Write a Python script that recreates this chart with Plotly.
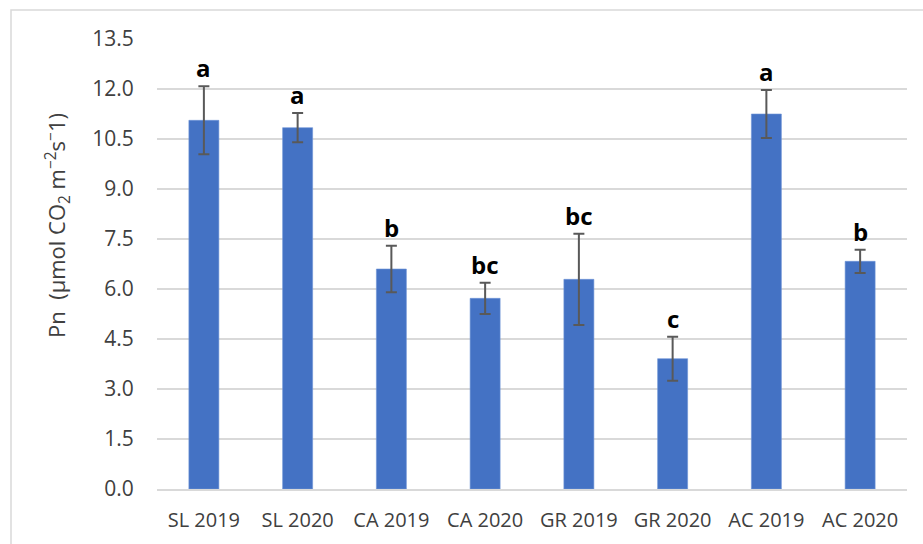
import plotly.graph_objects as go

# Net photosynthesis by treatment and year
categories = ["SL 2019", "SL 2020", "CA 2019", "CA 2020", "GR 2019", "GR 2020", "AC 2019", "AC 2020"]
pn_mean = [11.06, 10.84, 6.60, 5.72, 6.29, 3.91, 11.25, 6.83]
pn_err = [1.02, 0.44, 0.70, 0.47, 1.37, 0.66, 0.72, 0.35]
letters = ["a", "a", "b", "bc", "bc", "c", "a", "b"]
y_ticks = [0.0, 1.5, 3.0, 4.5, 6.0, 7.5, 9.0, 10.5, 12.0, 13.5]

W, H = 923, 544
ML, MR, MT, MB = 157, 16, 39, 55
pw, ph = W - ML - MR, H - MT - MB

fig = go.Figure(
    go.Bar(
        x=categories,
        y=pn_mean,
        marker=dict(color="#4472C4", line=dict(color="#6f93d6", width=0.6)),
        error_y=dict(type="data", array=pn_err, visible=True,
                     color="#595959", thickness=2, width=5.5),
        width=0.32,
    )
)

# significance letters above each error bar
for c, m, e, t in zip(categories, pn_mean, pn_err, letters):
    fig.add_annotation(x=c, y=m + e, text=f"<b>{t}</b>", showarrow=False,
                       yanchor="bottom", yshift=0,
                       font=dict(family="Open Sans", size=24, color="#000000"))

# y-axis title
fig.add_annotation(
    xref="paper", yref="paper",
    x=(57 - ML) / pw, y=1 - (226 - MT) / ph,
    text="Pn  (µmol CO<sub>2</sub> m<sup>−2</sup>s<sup>−</sup>1)",
    textangle=-90, showarrow=False, xanchor="center", yanchor="middle",
    font=dict(family="Open Sans", size=22, color="#404040"),
)

# chart frame
fig.add_shape(type="rect", xref="paper", yref="paper",
              x0=(11 - ML) / pw, x1=(W + 5 - ML) / pw,
              y0=1 - (H + 5 - MT) / ph, y1=1 - (10 - MT) / ph,
              line=dict(color="#d9d9d9", width=1.5), layer="below")

fig.update_layout(
    width=W, height=H,
    margin=dict(l=ML, r=MR, t=MT, b=MB),
    paper_bgcolor="white", plot_bgcolor="white",
    showlegend=False,
    font=dict(family="Open Sans", color="#595959"),
)
fig.update_xaxes(
    type="category", showgrid=False, showline=True, linecolor="#d9d9d9", linewidth=1.5,
    ticks="outside", ticklen=12, tickcolor="rgba(0,0,0,0)",
    tickfont=dict(family="Open Sans", size=20, color="#404040"),
)
fig.update_yaxes(
    range=[0, 13.5], tickvals=y_ticks, ticktext=[f"{v:.1f}" for v in y_ticks],
    showgrid=True, gridcolor="#d9d9d9", gridwidth=1.5, zeroline=False,
    ticks="outside", ticklen=18, tickcolor="rgba(0,0,0,0)",
    tickfont=dict(family="Open Sans", size=21, color="#404040"),
)

fig.write_html("out.html")
